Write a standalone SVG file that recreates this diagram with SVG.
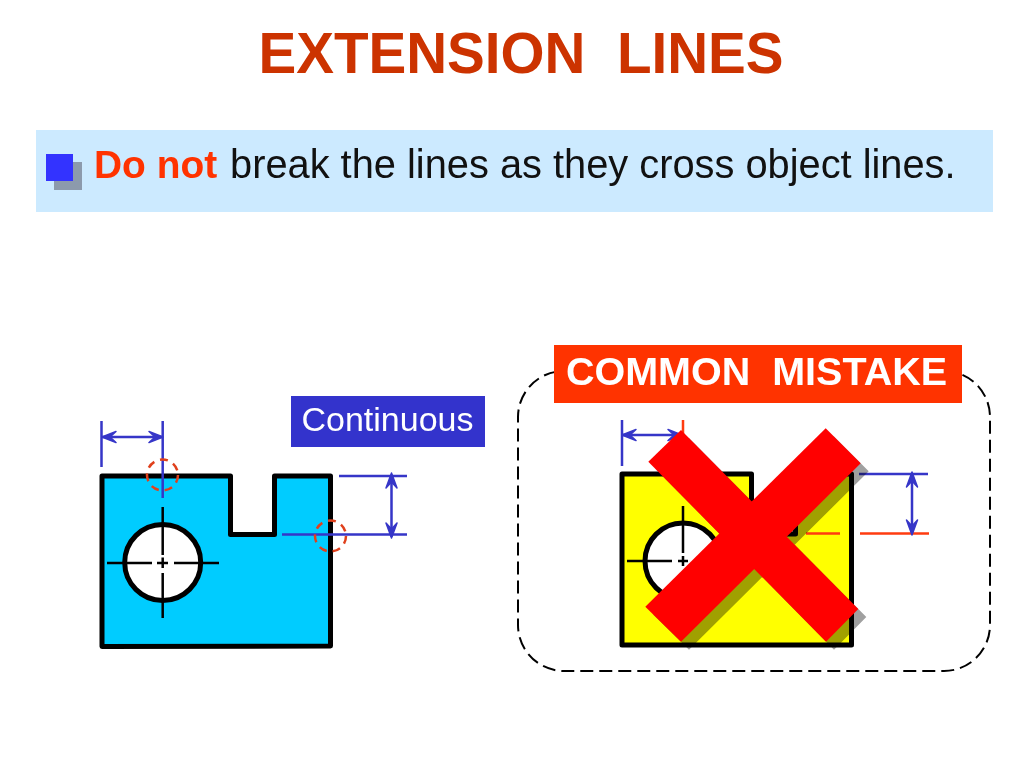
<svg xmlns="http://www.w3.org/2000/svg" width="1024" height="768" viewBox="0 0 1024 768">
<style>
text{font-family:"Liberation Sans",Arial,sans-serif}
.obj{stroke:#000;stroke-width:5;stroke-linejoin:round}
.thin{fill:none;stroke:#000;stroke-width:2.500}
.dim{fill:none;stroke:#3636c8;stroke-width:2.500}
.ar{fill:#3636c8;stroke:#3636c8;stroke-width:1.500;stroke-linejoin:round}
.err{fill:none;stroke:#ff3c10;stroke-width:2.500}
.circ{fill:none;stroke:#e0401c;stroke-width:2.500;stroke-dasharray:8 6}
</style>
<rect width="1024" height="768" fill="#fff"/>
<text x="521" y="73" font-size="56.600" font-weight="bold" fill="#cc3300" text-anchor="middle" xml:space="preserve">EXTENSION  LINES</text>
<g id="banner">
<rect x="36" y="130" width="957" height="82" fill="#cceaff"/>
<rect x="54" y="162" width="28" height="28" fill="#8c9aac"/>
<rect x="46" y="154" width="27" height="27" fill="#3333ff"/>
<text x="94" y="178" font-size="38.900" font-weight="bold" fill="#ff3300">Do not</text>
<text x="230" y="178" font-size="39.800" fill="#111">break the lines as they cross object lines.</text>
</g>
<g id="label-continuous">
<rect x="291" y="396" width="194" height="51" fill="#3333cc"/>
<text x="387.500" y="431" font-size="34" fill="#fff" text-anchor="middle">Continuous</text>
</g>
<g id="part-correct">
<path class="obj" fill="#00ccff" d="M102 476H230.500V534.500H274.500V476H330.500V646L102 646.500Z"/>
<circle class="obj" cx="162.700" cy="562.500" r="38" fill="#fff"/>
<path class="thin" d="M162.700 507V555M162.700 557.500V568M162.700 573V618M107 563H152M157 563H168M174 563H219"/>
</g>
<g id="connectors-correct">
<path class="dim" d="M101.500 421V467M162.700 421V498M339 476H407M282 534.500H407M391.500 475V537M102 437H163"/>
<path class="ar" d="M102 437L116 431.500L110 437L116 442.500ZM163 437L149 431.500L155 437L149 442.500ZM391.500 473L397 488L391.500 482L386 488ZM391.500 538L397 523L391.500 529L386 523Z"/>
<circle class="circ" cx="162.500" cy="475" r="15.500"/>
<circle class="circ" cx="330.500" cy="536" r="15.500"/>
</g>
<g id="mistake-frame">
<rect x="518" y="371" width="472" height="300" rx="46" ry="46" fill="none" stroke="#000" stroke-width="2" stroke-dasharray="13 6"/>
<rect x="554" y="345" width="408" height="58" fill="#ff3300"/>
<text x="756.500" y="385" font-size="39.500" font-weight="bold" fill="#fff" text-anchor="middle" xml:space="preserve">COMMON  MISTAKE</text>
</g>
<g id="part-mistake">
<path class="obj" fill="#ffff00" d="M622 474H751.500V534H795.500V474H851.500V645H622Z"/>
<circle class="obj" cx="683" cy="561" r="38" fill="#fff"/>
<path class="thin" d="M683 506V553M683 556V566M627 561H672M678 561H688"/>
</g>
<g id="connectors-mistake">
<path class="dim" d="M622 420V466M622 435H681M859 474H928M912 473V534"/>
<path class="err" d="M683 420V435M806 533.500H840M860 533.500H929"/>
<path class="ar" d="M622 435L636 429.500L630 435L636 440.500ZM682 435L668 429.500L674 435L668 440.500ZM912 472L917.500 487L912 481L906.500 487ZM912 535L917.500 520L912 526L906.500 520Z"/>
</g>
<g id="cross">
<g fill="#a0a0a0" style="mix-blend-mode:multiply" transform="translate(8 8)">
<path d="M648.300 461.700L681 430L858.300 609L826 641.700ZM825.700 428.300L860.700 463.300L681 641.700L645.300 606.700Z"/>
</g>
<path fill="#ff0000" d="M648.300 461.700L681 430L858.300 609L826 641.700Z"/>
<path fill="#ff0000" d="M825.700 428.300L860.700 463.300L681 641.700L645.300 606.700Z"/>
</g>
</svg>
